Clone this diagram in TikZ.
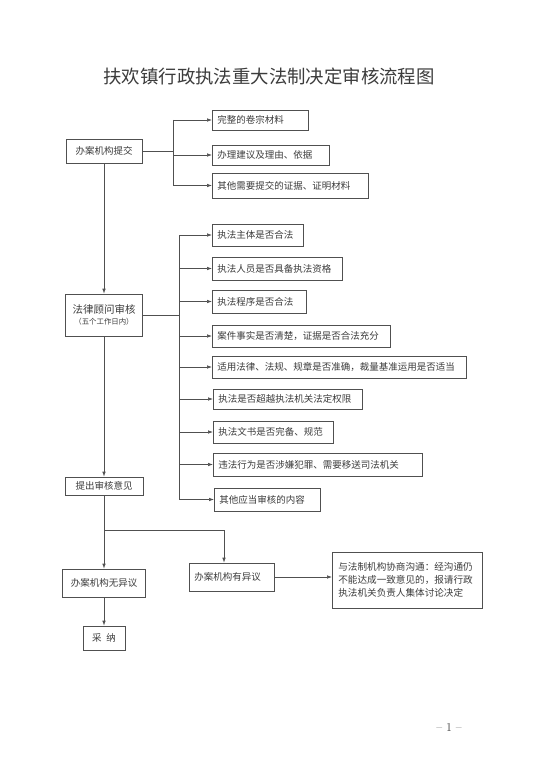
\documentclass[tikz,border=0pt]{standalone}
\usepackage{fontspec}
\newfontfamily\cjk{Noto Sans CJK SC}
\usetikzlibrary{arrows.meta}
\definecolor{ink}{HTML}{3C3C3C}
\definecolor{rule}{HTML}{505050}
\tikzset{
    box/.style={draw=rule, line width=0.7pt, text=ink, font=\cjk\fontsize{9.5}{12}\selectfont, inner xsep=5pt, inner ysep=0pt},
    chk/.style={box, anchor=west, align=left},
    arr/.style={draw=rule, line width=0.7pt, -{Latex[length=5pt,width=3.6pt]}},
    ln/.style={draw=rule, line width=0.7pt}
}
\begin{document}
\begin{tikzpicture}[x=1pt,y=-1pt]
    \useasboundingbox[fill=white] (0,0) rectangle (553,773);

    %Titel
        \node[text=ink, font=\cjk\fontsize{18.4}{20}\selectfont] (title) at (269,76) {扶欢镇行政执法重大法制决定审核流程图};

    %Indsendelse
        \node[box, minimum width=76, minimum height=24] (submit) at (104,151) {办案机构提交};
        \node[chk, text width=86, minimum height=20] (m1) at (212,120) {完整的卷宗材料};
        \node[chk, text width=107, minimum height=20] (m2) at (212,155) {办理建议及理由、依据};
        \node[chk, text width=146, minimum height=25] (m3) at (212,185.5) {其他需要提交的证据、证明材料};
        \coordinate (b1) at (173,151);
        \draw[ln] (submit.east) -- (b1);
        \draw[ln] (b1 |- m1.west) -- (b1 |- m3.west);
        \draw[arr] (b1 |- m1.west) -- (m1.west);
        \draw[arr] (b1 |- m2.west) -- (m2.west);
        \draw[arr] (b1 |- m3.west) -- (m3.west);

    %Gennemgang
        \node[box, align=center, minimum width=77, minimum height=42] (review) at (104,315)
            {\fontsize{10.5}{14}\selectfont 法律顾问审核\\[-1pt]\fontsize{7.4}{10}\selectfont （五个工作日内）};
        \draw[arr] (submit.south) -- (review.north);
        \node[chk, text width=81, minimum height=22] (c1) at (212,235) {执法主体是否合法};
        \node[chk, text width=120, minimum height=23] (c2) at (212,268.5) {执法人员是否具备执法资格};
        \node[chk, text width=84, minimum height=23] (c3) at (212,301.5) {执法程序是否合法};
        \node[chk, text width=168, minimum height=22] (c4) at (212,336) {案件事实是否清楚，证据是否合法充分};
        \node[chk, text width=244, minimum height=22] (c5) at (212,367) {适用法律、法规、规章是否准确，裁量基准运用是否适当};
        \node[chk, text width=139, minimum height=20] (c6) at (213,399) {执法是否超越执法机关法定权限};
        \node[chk, text width=110, minimum height=22] (c7) at (213,432) {执法文书是否完备、规范};
        \node[chk, text width=199, minimum height=23] (c8) at (213,464.5) {违法行为是否涉嫌犯罪、需要移送司法机关};
        \node[chk, text width=96, minimum height=23] (c9) at (214,499.5) {其他应当审核的内容};
        \coordinate (b2) at (179,315);
        \draw[ln] (review.east) -- (b2);
        \draw[ln] (b2 |- c1.west) -- (b2 |- c9.west);
        \draw[arr] (b2 |- c1.west) -- (c1.west);
        \draw[arr] (b2 |- c2.west) -- (c2.west);
        \draw[arr] (b2 |- c3.west) -- (c3.west);
        \draw[arr] (b2 |- c4.west) -- (c4.west);
        \draw[arr] (b2 |- c5.west) -- (c5.west);
        \draw[arr] (b2 |- c6.west) -- (c6.west);
        \draw[arr] (b2 |- c7.west) -- (c7.west);
        \draw[arr] (b2 |- c8.west) -- (c8.west);
        \draw[arr] (b2 |- c9.west) -- (c9.west);

    %Udtalelse
        \node[box, minimum width=78, minimum height=18] (opinion) at (104,486) {提出审核意见};
        \draw[arr] (review.south) -- (opinion.north);
        \coordinate (j1) at (104,530);
        \coordinate (j2) at (224,530);
        \node[box, minimum width=83, minimum height=28] (noobj) at (104,583) {办案机构无异议};
        \node[box, anchor=west, align=left, text width=75, minimum height=28] (obj) at (189,577) {办案机构有异议};
        \node[box, anchor=west, align=left, text width=138, minimum height=56, inner xsep=6pt,
              font=\cjk\fontsize{9.6}{13}\selectfont] (talk) at (332,580)
            {与法制机构协商沟通：经沟通仍\\不能达成一致意见的，报请行政\\执法机关负责人集体讨论决定};
        \node[box, minimum width=42, minimum height=24] (adopt) at (104,638) {采\enspace 纳};
        \draw[ln] (opinion.south) -- (j1) -- (j2);
        \draw[arr] (j1) -- (noobj.north);
        \draw[arr] (j2) -- (j2 |- obj.north);
        \draw[arr] (obj.east) -- (talk.west |- obj.east);
        \draw[arr] (noobj.south) -- (adopt.north);

    %Side
        \node[text=ink, font=\fontsize{12}{14}\selectfont] (page) at (449,728) {--\ 1\ --};
\end{tikzpicture}
\end{document}
